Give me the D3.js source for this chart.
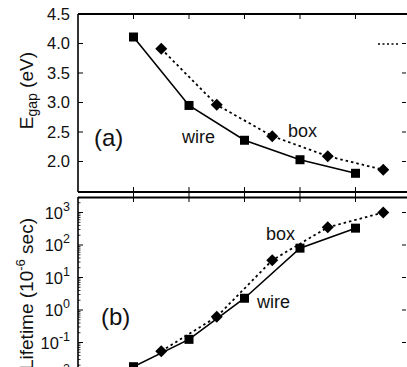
<!DOCTYPE html>
<html><head><meta charset="utf-8">
<script src="https://cdn.jsdelivr.net/npm/d3@7"></script>
<style>
html,body{margin:0;padding:0;background:#fff;}
svg{display:block;}
text{font-family:"Liberation Sans",Arial,sans-serif;fill:#111;}
</style></head>
<body>
<script>
// ---- data ----
const xWire = [1, 2, 3, 4, 5];
const xBox = [1.5, 2.5, 3.5, 4.5, 5.5];
const gapWire = [4.11, 2.95, 2.36, 2.03, 1.80];
const gapBox = [3.91, 2.96, 2.43, 2.09, 1.86];
const lifeWire = [0.018, 0.125, 2.3, 80, 330];
const lifeBox = [0.054, 0.62, 34, 350, 1000];
const gapTicks = [2.0, 2.5, 3.0, 3.5, 4.0, 4.5];
const lifeExp = [-2, -1, 0, 1, 2, 3];
const xTicks = [0, 1, 2, 3, 4, 5];

const W = 407, H = 367;
const svg = d3.select("body").append("svg").attr("width", W).attr("height", H);

const left = 78, right = 406;
const x = d3.scaleLinear().domain([0, 5.91]).range([left, right]);
const yTop = d3.scaleLinear().domain([1.483, 4.5]).range([192, 14]);
const yBot = d3.scaleLog().domain([1e-3, Math.pow(10, 3.477)]).range([407.5, 197]);

// frames
const g = svg.append("g");
g.append("line").attr("x1", left).attr("x2", right + 2).attr("y1", 14).attr("y2", 14).attr("stroke", "#000").attr("stroke-width", 2);
g.append("line").attr("x1", left).attr("x2", left).attr("y1", 14).attr("y2", 192).attr("stroke", "#000").attr("stroke-width", 1.6);
g.append("line").attr("x1", left).attr("x2", right + 2).attr("y1", 192).attr("y2", 192).attr("stroke", "#000").attr("stroke-width", 2);
g.append("line").attr("x1", left).attr("x2", right + 2).attr("y1", 197.5).attr("y2", 197.5).attr("stroke", "#000").attr("stroke-width", 2);
g.append("line").attr("x1", left).attr("x2", left).attr("y1", 197).attr("y2", H + 5).attr("stroke", "#000").attr("stroke-width", 1.6);

// x ticks (top of panel a, between panels)
xTicks.forEach(t => {
  if (t === 0) return;
  g.append("line").attr("x1", x(t)).attr("x2", x(t)).attr("y1", 14).attr("y2", 19).attr("stroke", "#000").attr("stroke-width", 1);
  g.append("line").attr("x1", x(t)).attr("x2", x(t)).attr("y1", 187).attr("y2", 202).attr("stroke", "#000").attr("stroke-width", 1);
});

// y ticks panel a
gapTicks.forEach(t => {
  g.append("line").attr("x1", left).attr("x2", left + 5).attr("y1", yTop(t)).attr("y2", yTop(t)).attr("stroke", "#000");
  if (t < 4.5) g.append("line").attr("x1", right - 4).attr("x2", right).attr("y1", yTop(t)).attr("y2", yTop(t)).attr("stroke", "#000");
  g.append("text").attr("x", 70).attr("y", yTop(t) + 6).attr("text-anchor", "end")
    .attr("font-size", 16.5).attr("font-weight", 500).text(t.toFixed(1));
});

// y ticks panel b
lifeExp.forEach(e => {
  const v = Math.pow(10, e);
  const yy = yBot(v);
  g.append("line").attr("x1", left).attr("x2", left + 5).attr("y1", yy).attr("y2", yy).attr("stroke", "#000");
  g.append("line").attr("x1", right - 4).attr("x2", right).attr("y1", yy).attr("y2", yy).attr("stroke", "#000");
  for (let k = 2; k <= 9; k++) {
    const ym = yBot(k * v);
    if (ym < 198) continue;
    g.append("line").attr("x1", left).attr("x2", left + 2.5).attr("y1", ym).attr("y2", ym).attr("stroke", "#000").attr("stroke-width", 0.8);
  }
  const t = g.append("text").attr("x", 70).attr("y", yy + 6).attr("text-anchor", "end").attr("font-size", 16.5).attr("font-weight", 500);
  t.append("tspan").text("10");
  t.append("tspan").attr("dy", -8).attr("font-size", 12.5).text(e);
});

// lines
const lineTop = d3.line().x(d => x(d[0])).y(d => yTop(d[1]));
const lineBot = d3.line().x(d => x(d[0])).y(d => yBot(d[1]));
const wTop = xWire.map((d, i) => [d, gapWire[i]]);
const bTop = xBox.map((d, i) => [d, gapBox[i]]);
const wBot = xWire.map((d, i) => [d, lifeWire[i]]);
const bBot = xBox.map((d, i) => [d, lifeBox[i]]);

const defs = svg.append("defs");
defs.append("clipPath").attr("id", "ca").append("rect").attr("x", left).attr("y", 14).attr("width", right - left).attr("height", 178);
defs.append("clipPath").attr("id", "cb").append("rect").attr("x", left).attr("y", 198).attr("width", right - left).attr("height", 200);

const pa = svg.append("g").attr("clip-path", "url(#ca)");
const pb = svg.append("g").attr("clip-path", "url(#cb)");

function drawSeries(p, wd, bd, line) {
  p.append("path").datum(bd).attr("d", line).attr("fill", "none").attr("stroke", "#000").attr("stroke-width", 1.8).attr("stroke-dasharray", "2.5,3");
  p.append("path").datum(wd).attr("d", line).attr("fill", "none").attr("stroke", "#000").attr("stroke-width", 1.6);
  p.selectAll(null).data(wd).enter().append("rect")
    .attr("x", d => line.x()(d) - 4.5).attr("y", d => line.y()(d) - 4.5)
    .attr("width", 9).attr("height", 9).attr("fill", "#000");
  p.selectAll(null).data(bd).enter().append("path")
    .attr("transform", d => `translate(${line.x()(d)},${line.y()(d)})`)
    .attr("d", "M0,-6 L6,0 L0,6 L-6,0 Z").attr("fill", "#000");
}
drawSeries(pa, wTop, bTop, lineTop);
drawSeries(pb, wBot, bBot, lineBot);

// partial legend key top right
svg.append("line").attr("x1", 378).attr("x2", 399).attr("y1", 44).attr("y2", 44)
  .attr("stroke", "#000").attr("stroke-width", 1.3).attr("stroke-dasharray", "2,2.5");

// annotations
svg.append("text").attr("x", 94).attr("y", 146).attr("font-size", 24).text("(a)");
svg.append("text").attr("x", 182).attr("y", 143).attr("font-size", 18).text("wire");
svg.append("text").attr("x", 288).attr("y", 137).attr("font-size", 18).text("box");
svg.append("text").attr("x", 101).attr("y", 325).attr("font-size", 24).text("(b)");
svg.append("text").attr("x", 257).attr("y", 308).attr("font-size", 18).text("wire");
svg.append("text").attr("x", 266).attr("y", 240).attr("font-size", 18).text("box");

// axis titles
const t1 = svg.append("text").attr("transform", "translate(33,52) rotate(-90)").attr("text-anchor", "end").attr("font-size", 19);
t1.append("tspan").text("E");
t1.append("tspan").attr("dy", 4).attr("font-size", 14).text("gap");
t1.append("tspan").attr("dy", -4).text(" (eV)");

const t2 = svg.append("text").attr("transform", "translate(33,218) rotate(-90)").attr("text-anchor", "end").attr("font-size", 19);
t2.append("tspan").text("Lifetime (10");
t2.append("tspan").attr("dy", -8).attr("font-size", 13).text("-6");
t2.append("tspan").attr("dy", 8).text(" sec)");
</script>
</body></html>
